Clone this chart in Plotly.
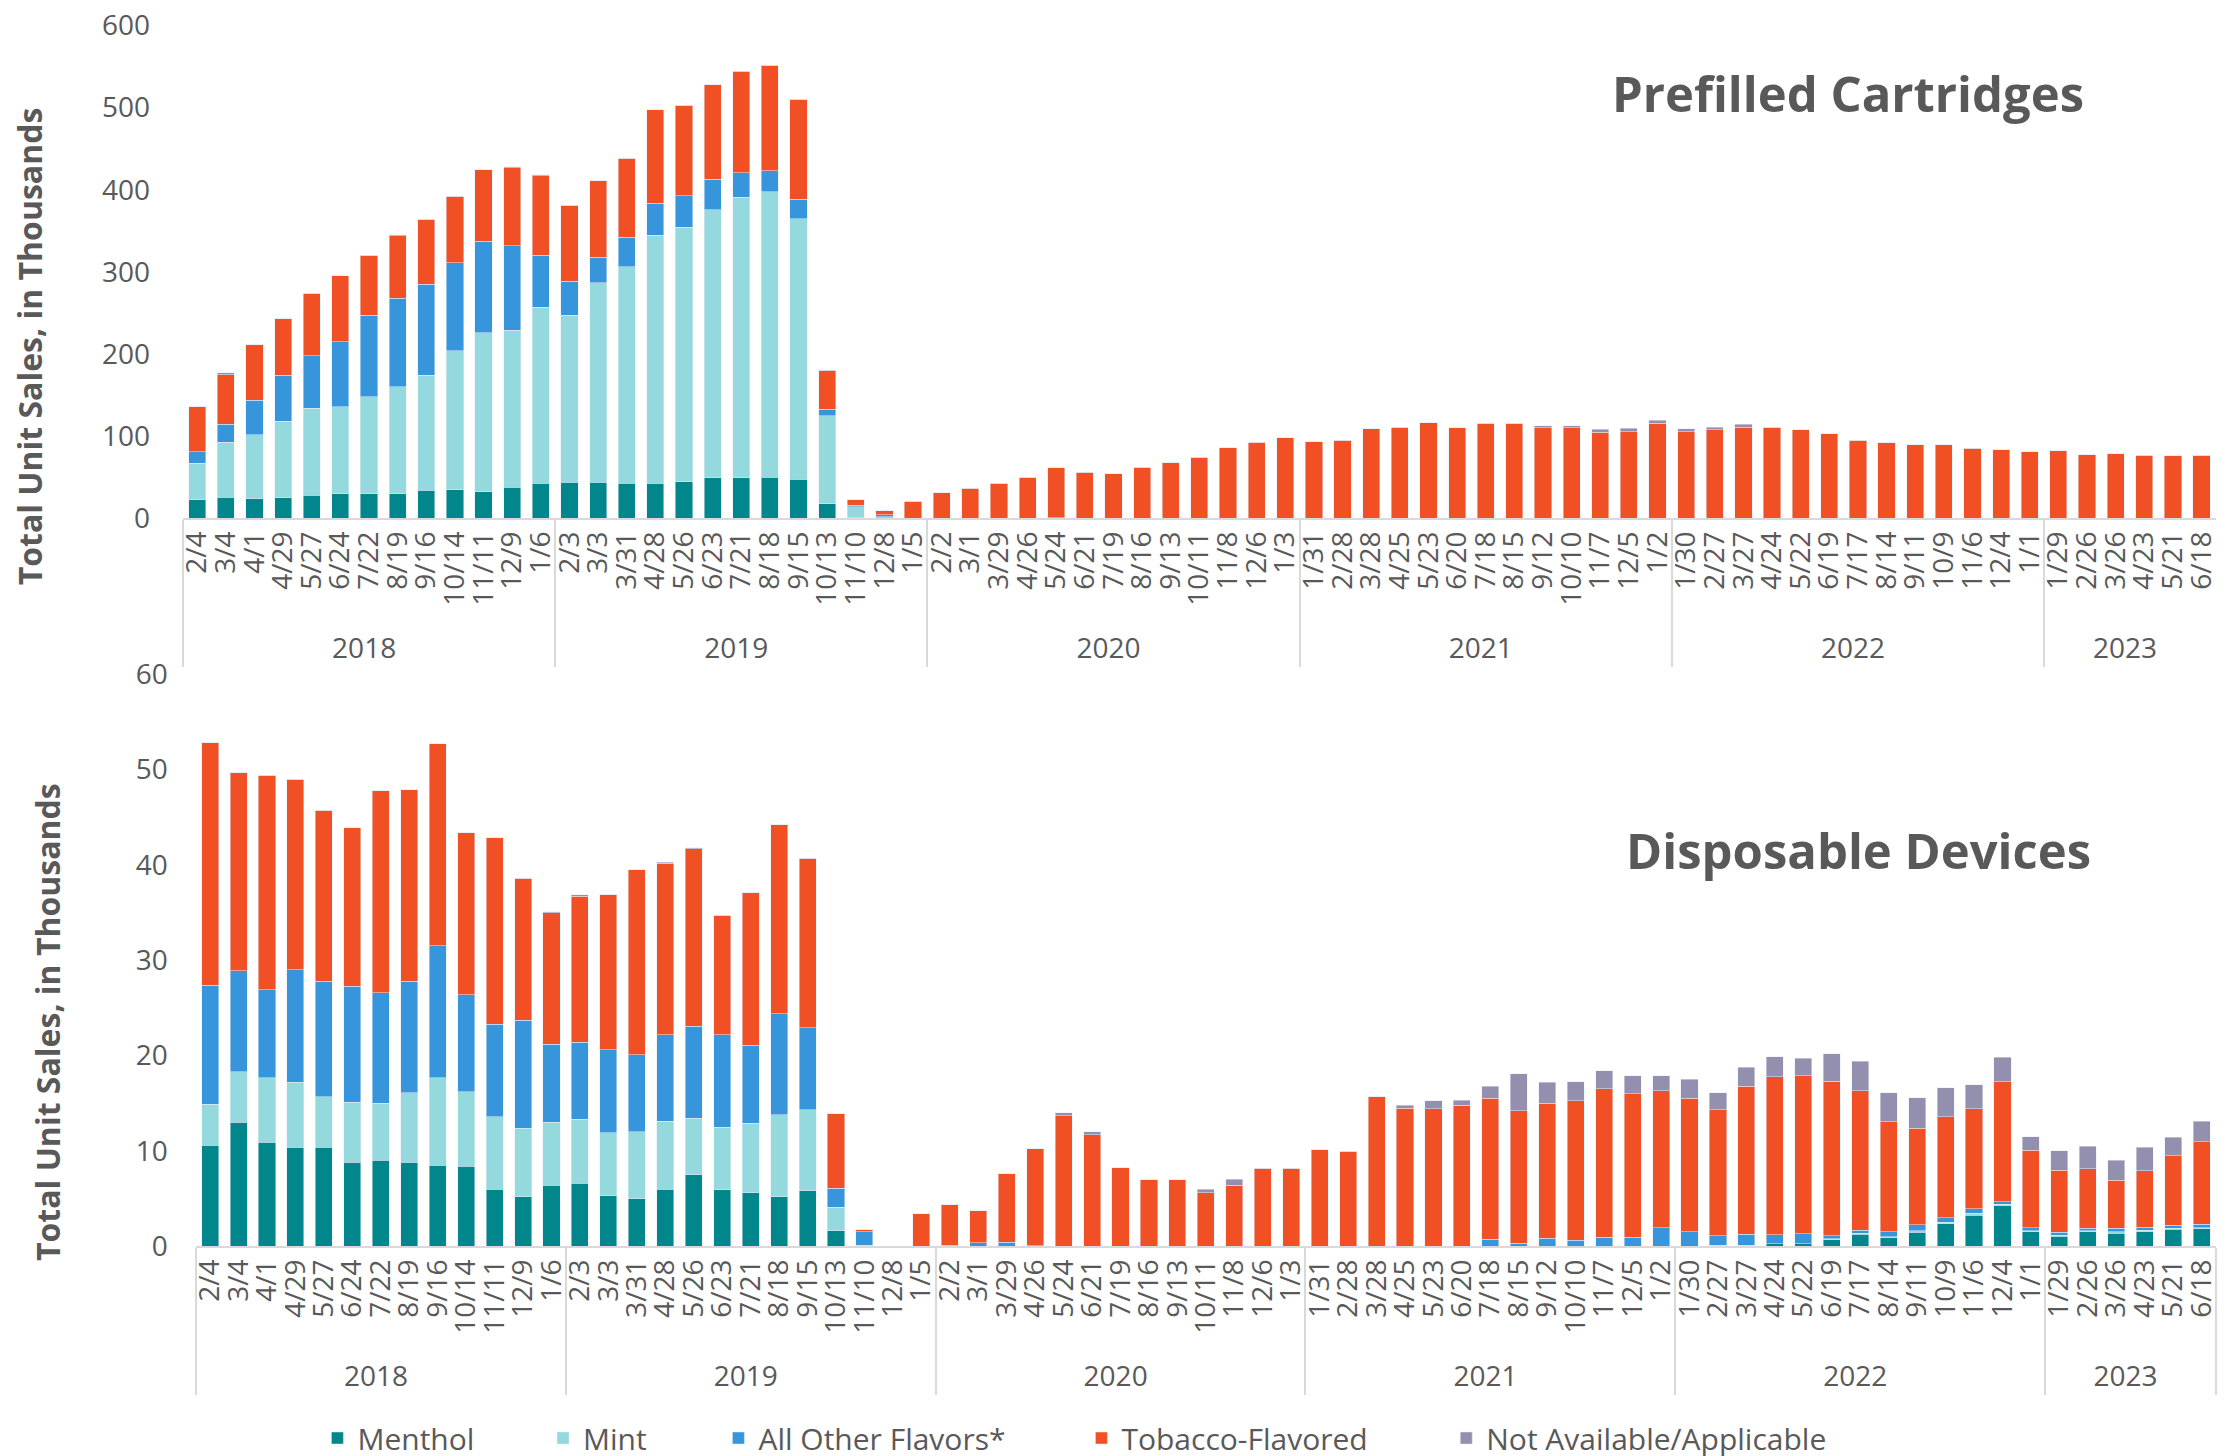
import plotly.graph_objects as go

# 4-week periods, grouped by year
years = ["2018", "2019", "2020", "2021", "2022", "2023"]
periods = [
    ["2/4", "3/4", "4/1", "4/29", "5/27", "6/24", "7/22", "8/19", "9/16", "10/14", "11/11", "12/9", "1/6"],
    ["2/3", "3/3", "3/31", "4/28", "5/26", "6/23", "7/21", "8/18", "9/15", "10/13", "11/10", "12/8", "1/5"],
    ["2/2", "3/1", "3/29", "4/26", "5/24", "6/21", "7/19", "8/16", "9/13", "10/11", "11/8", "12/6", "1/3"],
    ["1/31", "2/28", "3/28", "4/25", "5/23", "6/20", "7/18", "8/15", "9/12", "10/10", "11/7", "12/5", "1/2"],
    ["1/30", "2/27", "3/27", "4/24", "5/22", "6/19", "7/17", "8/14", "9/11", "10/9", "11/6", "12/4", "1/1"],
    ["1/29", "2/26", "3/26", "4/23", "5/21", "6/18"],
]

# Prefilled cartridges, thousands of units
cart_menthol = [22.5, 25.5, 24, 25, 28, 30, 30, 30, 34, 35, 32.5, 37.7, 43,
                44, 43.8, 42.5, 43, 44.6, 49.4, 49.4, 50, 47.7, 18, 1, 0.3, 0,
                0, 0, 0, 0, 0, 0, 0, 0, 0, 0, 0, 0, 0,
                0, 0, 0, 0, 0, 0, 0, 0, 0, 0, 0, 0, 0,
                0, 0, 0, 0, 0, 0, 0, 0, 0, 0, 0, 0, 0,
                0, 0, 0, 0, 0, 0]
cart_mint = [44.5, 67, 78, 93, 106, 106, 118, 130, 140, 169, 193.5, 191.3, 214,
             203, 243.2, 263.5, 301.5, 309.4, 326.2, 341.6, 347.7, 317.1, 106.8, 13, 1.7, 0,
             0, 0, 0, 0, 0, 0, 0, 0, 0, 0, 0, 0, 0,
             0, 0, 0, 0, 0, 0, 0, 0, 0, 0, 0, 0, 0,
             0, 0, 0, 0, 0, 0, 0, 0, 0, 0, 0, 0, 0,
             0, 0, 0, 0, 0, 0]
cart_other = [14, 22, 42, 56, 64, 79, 99, 108, 111, 107, 111.5, 103, 63,
              41.6, 30.6, 36, 39, 38.5, 37.4, 29.7, 25.3, 23.8, 8.2, 2, 2.3, 0,
              0, 0, 0, 0, 1, 0, 0, 0, 0, 0, 0, 0, 0,
              0, 0, 0, 0, 0, 0, 0, 0, 0, 0, 0, 0, 0,
              0, 0, 0, 0, 0, 0, 0, 0, 0, 0, 0, 0, 0,
              0, 0, 0, 0, 0, 0]
cart_tobacco = [55, 60, 67, 69, 76, 80, 73, 76, 79, 81, 86.5, 95, 97,
                92.4, 93.4, 96.5, 113.6, 110.5, 115, 123, 128.5, 121.4, 46.8, 6.5, 5.2, 21,
                31, 36.4, 42.5, 50, 60.5, 56.3, 54, 62.4, 67.6, 74.5, 85.8, 92.7, 98,
                93, 95, 109, 111, 116.5, 110, 116, 116, 110, 110, 105, 105.7, 116,
                105.7, 108, 111, 111, 108, 102.7, 95, 92, 89.7, 89.7, 85.4, 83.6, 81,
                82, 77.6, 78.9, 76.7, 76.3, 77]
cart_na = [0, 2.5, 0, 0, 0, 0, 0, 1, 0, 0, 0, 1, 1,
           0, 0, 0, 0.5, 0, 0, 0.5, 0, 0, 0.5, 0, 0, 0,
           0, 0, 0, 0, 0, 0, 0, 0, 0, 0, 0, 0, 0,
           0, 0, 0, 0, 0, 0, 0, 0, 3, 3, 3.7, 3.9, 3.6,
           3.3, 3, 3.8, 0, 0, 0, 0, 0, 0, 0, 0, 0, 0,
           0, 0, 0, 0, 0, 0]

# Disposable devices, thousands of units
disp_menthol = [10.6, 13.0, 10.9, 10.4, 10.4, 8.8, 9.0, 8.8, 8.5, 8.4, 6.0, 5.2, 6.4,
                6.6, 5.3, 5.0, 6.0, 7.5, 5.9, 5.6, 5.2, 5.8, 1.6, 0, 0, 0,
                0, 0, 0, 0, 0, 0, 0, 0, 0, 0, 0, 0, 0,
                0, 0, 0, 0, 0, 0, 0, 0, 0, 0, 0, 0, 0,
                0, 0.1, 0.1, 0.25, 0.25, 0.7, 1.24, 0.87, 1.45, 2.36, 3.27, 4.27, 1.53,
                1.04, 1.53, 1.37, 1.53, 1.78, 1.82]
disp_mint = [4.3, 5.3, 6.8, 6.8, 5.3, 6.3, 6.0, 7.3, 9.2, 7.8, 7.6, 7.2, 6.6,
             6.7, 6.6, 7.0, 7.1, 5.9, 6.6, 7.3, 8.6, 8.5, 2.5, 0.1, 0, 0,
             0, 0, 0, 0, 0, 0, 0, 0, 0, 0, 0, 0, 0,
             0, 0, 0, 0, 0, 0, 0, 0, 0, 0, 0, 0, 0,
             0, 0, 0, 0, 0, 0.1, 0.13, 0.1, 0.15, 0.14, 0.17, 0.13, 0.07,
             0.12, 0.07, 0.13, 0.13, 0.08, 0.13]
disp_other = [12.5, 10.6, 9.2, 11.8, 12.1, 12.2, 11.6, 11.7, 13.8, 10.2, 9.7, 11.3, 8.2,
              8.1, 8.7, 8.1, 9.1, 9.7, 9.7, 8.2, 10.6, 8.6, 2.0, 1.4, 0, 0,
              0.1, 0.37, 0.4, 0.05, 0, 0, 0, 0, 0, 0, 0, 0, 0,
              0, 0, 0, 0, 0, 0, 0.75, 0.33, 0.83, 0.6, 0.95, 0.95, 1.95,
              1.5, 1.0, 1.14, 0.95, 1.08, 0.3, 0.29, 0.53, 0.64, 0.5, 0.5, 0.24, 0.35,
              0.29, 0.3, 0.4, 0.34, 0.34, 0.35]
disp_tobacco = [25.4, 20.8, 22.5, 20.0, 17.95, 16.6, 21.2, 20.1, 21.2, 17.0, 19.55, 14.9, 13.8,
                15.3, 16.3, 19.4, 18.0, 18.6, 12.5, 16.0, 19.8, 17.8, 7.8, 0.25, 0, 3.4,
                4.25, 3.33, 7.2, 10.15, 13.7, 11.7, 8.25, 6.96, 6.96, 5.6, 6.4, 8.16, 8.16,
                10.1, 9.95, 15.67, 14.5, 14.4, 14.8, 14.75, 13.87, 14.17, 14.65, 15.55, 15.05, 14.35,
                14.0, 13.2, 15.56, 16.6, 16.57, 16.2, 14.64, 11.55, 10.16, 10.6, 10.46, 12.6, 8.12,
                6.51, 6.2, 5.0, 5.9, 7.3, 8.64]
disp_na = [0, 0, 0, 0, 0, 0, 0, 0, 0, 0, 0, 0, 0.1,
           0.2, 0, 0, 0.1, 0.1, 0, 0, 0, 0, 0, 0, 0, 0,
           0, 0, 0, 0, 0.3, 0.3, 0, 0, 0, 0.37, 0.65, 0, 0,
           0, 0, 0, 0.3, 0.85, 0.5, 1.3, 3.9, 2.2, 2.0, 1.9, 1.86, 1.6,
           2.0, 1.8, 2.0, 2.1, 1.8, 2.9, 3.1, 3.05, 3.2, 3.0, 2.55, 2.56, 1.43,
           2.04, 2.4, 2.1, 2.46, 1.94, 2.16]

flavors = ["Menthol", "Mint", "All Other Flavors*", "Tobacco-Flavored", "Not Available/Applicable"]
colors = ["#00868B", "#93D9DE", "#3796DB", "#F05024", "#938FAE"]

year_col = [y for y, p in zip(years, periods) for _ in p]
date_col = [d for p in periods for d in p]
x = [year_col, date_col]

grey = "#595959"
font = "Open Sans, sans-serif"

fig = go.Figure()

cart = [cart_menthol, cart_mint, cart_other, cart_tobacco, cart_na]
disp = [disp_menthol, disp_mint, disp_other, disp_tobacco, disp_na]
legend_ids = ["legend", "legend2", "legend3", "legend4", "legend5"]

for name, col, vals in zip(flavors, colors, cart):
    fig.add_trace(go.Bar(x=x, y=vals, name=name, marker_color=col,
                         legendgroup=name, showlegend=False,
                         xaxis="x", yaxis="y"))

for name, col, vals, lg in zip(flavors, colors, disp, legend_ids):
    fig.add_trace(go.Bar(x=x, y=vals, name=name, marker_color=col,
                         legendgroup=name, showlegend=True, legend=lg,
                         xaxis="x2", yaxis="y2"))

xcommon = dict(
    type="multicategory", automargin=False,
    showline=True, linecolor="#D9D9D9", linewidth=2,
    showdividers=True, dividercolor="#D9D9D9", dividerwidth=2,
    tickangle=-90, dtick=1,
    ticks="outside", ticklen=6, tickcolor="rgba(0,0,0,0)",  # invisible, just spaces the labels
    tickfont=dict(family=font, size=28, color=grey),
    showgrid=False, zeroline=False,
)
ycommon = dict(
    automargin=False, ticklabeloverflow="allow",
    showgrid=False, zeroline=False, showline=False, ticks="",
    tickfont=dict(family=font, size=28, color=grey),
)

# one legend box per flavor so the entries sit where the original has them
legend_x = [0.1385, 0.2395, 0.318, 0.4805, 0.6438]
legends = {}
for lg, lx in zip(legend_ids, legend_x):
    legends[lg] = dict(orientation="h", x=lx, xanchor="left", y=0.0117, yanchor="middle",
                       bgcolor="rgba(0,0,0,0)",
                       font=dict(family=font, size=30, color=grey))

title_font = dict(family=font, size=32, color=grey, weight="bold")
panel_font = dict(family=font, size=49, color=grey, weight="bold")

fig.update_layout(
    width=2234, height=1456,
    margin=dict(l=0, r=0, t=0, b=0),
    paper_bgcolor="white", plot_bgcolor="white",
    barmode="stack", bargap=0.4,
    xaxis=dict(domain=[0.0783, 0.9883], anchor="y", **xcommon),
    yaxis=dict(domain=[0.6473, 0.9880], anchor="x", range=[0, 600], dtick=100,
               ticklabelstandoff=32, **ycommon),
    xaxis2=dict(domain=[0.0841, 0.9883], anchor="y2", **xcommon),
    yaxis2=dict(domain=[0.1443, 0.5395], anchor="x2", range=[0, 60], dtick=10,
                ticklabelstandoff=27, **ycommon),
    annotations=[
        dict(text="Prefilled Cartridges", x=0.8235, y=0.9411, xref="paper", yref="paper",
             xanchor="center", yanchor="middle", showarrow=False, font=panel_font),
        dict(text="Disposable Devices", x=0.8282, y=0.4178, xref="paper", yref="paper",
             xanchor="center", yanchor="middle", showarrow=False, font=panel_font),
        dict(text="Total Unit Sales, in Thousands", x=0.0098, y=0.7661, xref="paper", yref="paper",
             xanchor="center", yanchor="middle", textangle=-90, showarrow=False, font=title_font),
        dict(text="Total Unit Sales, in Thousands", x=0.018, y=0.2994, xref="paper", yref="paper",
             xanchor="center", yanchor="middle", textangle=-90, showarrow=False, font=title_font),
    ],
    **legends,
)

fig.write_html("out.html")
